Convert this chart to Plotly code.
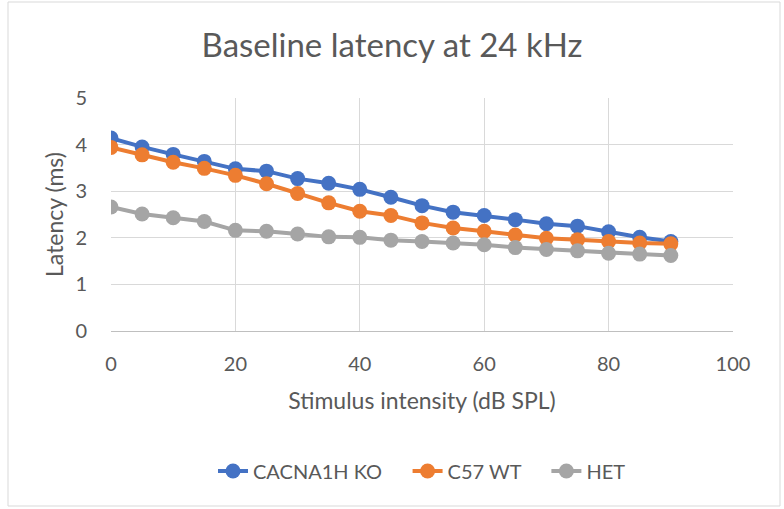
import plotly.graph_objects as go

intensity = [0, 5, 10, 15, 20, 25, 30, 35, 40, 45, 50, 55, 60, 65, 70, 75, 80, 85, 90]
ko = [4.14, 3.95, 3.79, 3.64, 3.48, 3.43, 3.27, 3.17, 3.04, 2.87, 2.69, 2.55, 2.48, 2.39, 2.30, 2.25, 2.13, 2.01, 1.92]
wt = [3.94, 3.78, 3.62, 3.49, 3.34, 3.16, 2.95, 2.75, 2.57, 2.48, 2.32, 2.21, 2.14, 2.06, 1.99, 1.96, 1.92, 1.89, 1.87]
het = [2.66, 2.51, 2.43, 2.35, 2.16, 2.14, 2.08, 2.02, 2.01, 1.95, 1.92, 1.89, 1.85, 1.79, 1.75, 1.72, 1.67, 1.65, 1.62]

names = ["CACNA1H KO", "C57 WT", "HET"]
colors = ["#4472C4", "#ED7D31", "#A5A5A5"]
series = [ko, wt, het]

FONT = "Lato"
TXT = "#595959"
PAD = "\u00a0" * 4

fig = go.Figure()
for i, (nm, col, ys) in enumerate(zip(names, colors, series)):
    fig.add_trace(go.Scatter(
        x=intensity, y=ys, name=nm + (PAD if i < len(names) - 1 else ""),
        mode="lines+markers",
        line=dict(color=col, width=4),
        marker=dict(color=col, size=15),
    ))

fig.update_layout(
    width=784, height=509,
    margin=dict(l=111, r=51, t=98, b=178),
    paper_bgcolor="white", plot_bgcolor="white",
    font=dict(family=FONT, color=TXT, size=20),
    title=dict(text="Baseline latency at 24 kHz", x=0.5, xanchor="center",
               y=1 - 45 / 509, yanchor="middle",
               font=dict(family=FONT, size=33, color=TXT)),
    xaxis=dict(range=[0, 100], tickvals=[0, 20, 40, 60, 80, 100],
               showgrid=True, gridcolor="#D9D9D9", gridwidth=1,
               showline=True, linecolor="#BFBFBF", linewidth=1,
               zeroline=False, ticks="outside", ticklen=15,
               tickcolor="rgba(0,0,0,0)",
               title=dict(text="Stimulus intensity (dB SPL)", standoff=18,
                          font=dict(size=23, color=TXT)),
               tickfont=dict(size=20, color=TXT)),
    yaxis=dict(range=[0, 5], tickvals=[0, 1, 2, 3, 4, 5],
               showgrid=True, gridcolor="#D9D9D9", gridwidth=1,
               showline=False, zeroline=False, ticks="outside", ticklen=19,
               tickcolor="rgba(0,0,0,0)",
               title=dict(text="Latency (ms)", standoff=5,
                          font=dict(size=23, color=TXT)),
               tickfont=dict(size=20, color=TXT)),
    legend=dict(orientation="h", x=0.5, xanchor="center",
                y=-(471 - 331) / 233, yanchor="middle",
                font=dict(size=20, color=TXT)),
    showlegend=True,
    shapes=[dict(type="rect", xref="paper", yref="paper",
                 x0=-(111 - 8) / 622, x1=1 + (780 - 733) / 622,
                 y0=-(506 - 331) / 233, y1=1 + (98 - 2) / 233,
                 line=dict(color="#D9D9D9", width=1), layer="below")],
)

fig.write_html("out.html")
